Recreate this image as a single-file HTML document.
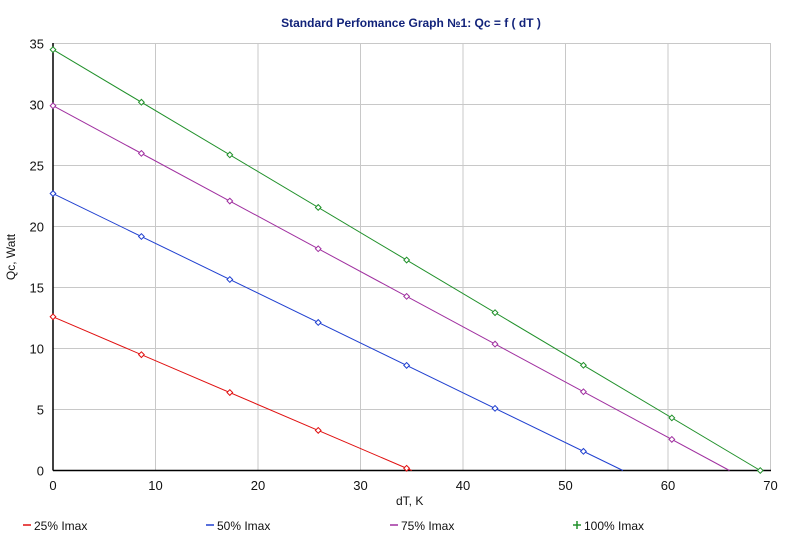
<!DOCTYPE html>
<html><head><meta charset="utf-8"><style>
body{margin:0;background:#fff;}
svg{display:block;font-family:"Liberation Sans",sans-serif;}
</style></head><body>
<svg id="s" width="803" height="554" xmlns="http://www.w3.org/2000/svg">
<rect width="803" height="554" fill="#fff"/>
<text x="411" y="27" text-anchor="middle" font-size="12" font-weight="bold" fill="#12237a">Standard Perfomance Graph №1: Qc = f ( dT )</text>
<g id="grid" stroke="#c8c8c8" stroke-width="1"></g>
<g id="lab" font-size="13" fill="#111"></g>
<text x="396" y="505" font-size="12" fill="#111">dT, K</text>
<text transform="translate(15,257) rotate(-90)" text-anchor="middle" font-size="12" fill="#111">Qc, Watt</text>
<line x1="53" y1="43" x2="53" y2="470.5" stroke="#000" stroke-width="1.5"/>
<line x1="53" y1="470.5" x2="771" y2="470.5" stroke="#000" stroke-width="1.5"/>
<g id="ser"></g>
<g font-size="12" fill="#111">
<text x="34" y="530">25% Imax</text>
<text x="217" y="530">50% Imax</text>
<text x="401" y="530">75% Imax</text>
<text x="584" y="530">100% Imax</text>
</g>
<g stroke-width="1.5">
<line x1="23" y1="525" x2="31" y2="525" stroke="#e01010"/>
<line x1="206" y1="525" x2="214" y2="525" stroke="#2040d0"/>
<line x1="390" y1="525" x2="398" y2="525" stroke="#a030a0"/>
<line x1="573" y1="525" x2="581" y2="525" stroke="#20902a"/>
<line x1="577" y1="521" x2="577" y2="529" stroke="#20902a"/>
</g>
</svg>
<script>
var NS="http://www.w3.org/2000/svg";
function X(v){return 53+v*10.25;}function Y(v){return 470.5-v*12.2;}
function el(p,t,a){var e=document.createElementNS(NS,t);for(var k in a)e.setAttribute(k,a[k]);document.getElementById(p).appendChild(e);return e;}
for(var i=1;i<=7;i++){el("grid","line",{x1:X(i*10),x2:X(i*10),y1:43,y2:470});}
for(var j=1;j<=7;j++){el("grid","line",{x1:53,x2:771,y1:Y(j*5),y2:Y(j*5)});}
for(var i=0;i<=7;i++){var t=el("lab","text",{x:X(i*10),y:490,"text-anchor":"middle"});t.textContent=i*10;}
for(var j=0;j<=7;j++){var t=el("lab","text",{x:44,y:Y(j*5)+5,"text-anchor":"end"});t.textContent=j*5;}
var S=[[12.6,35,"#e01010"],[22.7,55.6,"#2040d0"],[29.9,66,"#a030a0"],[34.5,69,"#20902a"]];
var step=69/8;
S.forEach(function(s){
 el("ser","line",{x1:X(0),y1:Y(s[0]),x2:X(s[1]),y2:Y(0),stroke:s[2],"stroke-width":1});
 for(var k=0;k*step<=s[1]+0.01;k++){var x=k*step,y=s[0]*(1-x/s[1]);
  el("ser","rect",{x:X(x)-2,y:Y(y)-2,width:4,height:4,fill:"#fff",stroke:s[2],"stroke-width":1,transform:"rotate(45 "+X(x)+" "+Y(y)+")"});}
});
</script>
</body></html>
